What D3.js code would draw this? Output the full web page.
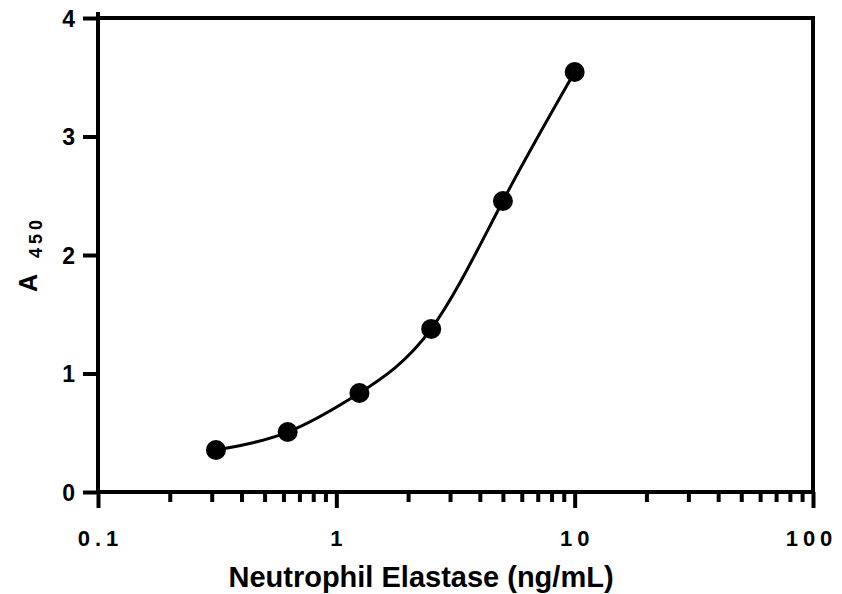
<!DOCTYPE html>
<html>
<head>
<meta charset="utf-8">
<script src="https://cdn.jsdelivr.net/npm/d3@7"></script>
<style>
  body { margin: 0; background: #fff; }
  text { font-family: "Liberation Sans", Arial, sans-serif; font-weight: bold; fill: #000; }
</style>
</head>
<body>
<div id="chart"></div>
<script>
// standard curve: concentration (ng/mL) vs A450
var conc = [0.3125, 0.625, 1.25, 2.5, 5, 10];
var absorb = [0.354, 0.506, 0.835, 1.376, 2.456, 3.544];
var yTicks = [0, 1, 2, 3, 4];
var xTicks = [0.1, 1, 10, 100];
var xTitle = "Neutrophil Elastase (ng/mL)";

var width = 842, height = 594;
var plotL = 98, plotR = 813, plotT = 18, plotB = 492;

var svg = d3.select("#chart").append("svg")
  .attr("width", width)
  .attr("height", height);

var x = d3.scaleLog().domain([0.1, 100]).range([plotL, plotR]);
var y = d3.scaleLinear().domain([0, 4]).range([plotB, plotT]);

// minor ticks on the log axis
var minor = [];
[0.1, 1, 10].forEach(function(d){
  for(var i = 2; i < 10; i++){ minor.push(d * i); }
});

// frame: top and right
svg.append("line")
  .attr("x1", plotL).attr("x2", plotR + 2)
  .attr("y1", plotT).attr("y2", plotT)
  .attr("stroke", "#000").attr("stroke-width", 4);
svg.append("line")
  .attr("x1", plotR).attr("x2", plotR)
  .attr("y1", plotT).attr("y2", plotB)
  .attr("stroke", "#000").attr("stroke-width", 4);

// y axis
var yAxis = d3.axisLeft(y).tickValues(yTicks).tickSize(15).tickPadding(8)
  .tickFormat(d3.format("d"));
var ya = svg.append("g").attr("transform", "translate(" + plotL + ",0)").call(yAxis);
ya.select(".domain").remove();
ya.append("line").attr("x1", 0).attr("x2", 0).attr("y1", plotT - 6).attr("y2", plotB)
  .attr("stroke", "#000").attr("stroke-width", 4);
ya.selectAll(".tick line").attr("stroke", "#000").attr("stroke-width", 4);
ya.selectAll(".tick text").style("font-size", "23px").attr("dy", "0.36em");

// x axis, major
var xAxis = d3.axisBottom(x).tickValues(xTicks).tickSize(16).tickPadding(22)
  .tickFormat(function(d){ return d < 1 ? "0.1" : d3.format("d")(d); });
var xa = svg.append("g").attr("transform", "translate(0," + plotB + ")").call(xAxis);
xa.select(".domain").remove();
xa.append("line").attr("x1", plotL).attr("x2", plotR + 2).attr("y1", 0).attr("y2", 0)
  .attr("stroke", "#000").attr("stroke-width", 4);
xa.selectAll(".tick line").attr("stroke", "#000").attr("stroke-width", 4);
xa.selectAll(".tick text").style("font-size", "22px").style("letter-spacing", "5px")
  .attr("dx", function(d){ return d == 100 ? -2 : 2; });

// x axis, minor
var xm = d3.axisBottom(x).tickValues(minor).tickSize(10).tickFormat("");
var xma = svg.append("g").attr("transform", "translate(0," + plotB + ")").call(xm);
xma.select(".domain").remove();
xma.selectAll(".tick line").attr("stroke", "#000").attr("stroke-width", 4);

// fitted curve
var line = d3.line()
  .x(function(d, i){ return x(conc[i]); })
  .y(function(d){ return y(d); })
  .curve(d3.curveNatural);

svg.append("path")
  .datum(absorb)
  .attr("d", line)
  .attr("fill", "none")
  .attr("stroke", "#000")
  .attr("stroke-width", 3);

svg.selectAll("circle.pt")
  .data(absorb).enter()
  .append("circle")
    .attr("class", "pt")
    .attr("cx", function(d, i){ return x(conc[i]); })
    .attr("cy", function(d){ return y(d); })
    .attr("r", 10)
    .attr("fill", "#000");

// axis titles
svg.append("text")
  .attr("x", 421)
  .attr("y", 587)
  .attr("text-anchor", "middle")
  .style("font-size", "29px")
  .text(xTitle);

var yl = svg.append("text")
  .attr("transform", "translate(37,292) rotate(-90)")
  .attr("text-anchor", "start")
  .style("font-size", "25px");
yl.append("tspan").text("A");
yl.append("tspan").attr("dx", 16).attr("dy", 5).style("font-size", "18px")
  .style("letter-spacing", "4px").text("450");
</script>
</body>
</html>
